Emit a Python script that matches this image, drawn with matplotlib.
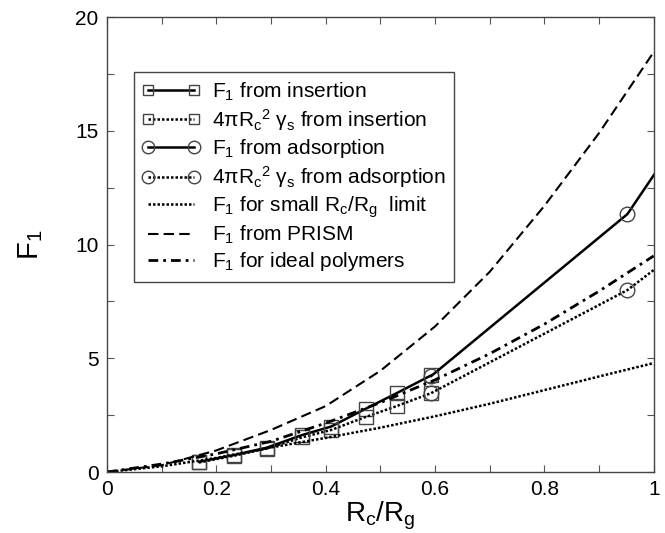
import numpy as np
import matplotlib
matplotlib.use("Agg")
import matplotlib.pyplot as plt
from matplotlib.ticker import MultipleLocator, FormatStrFormatter

plt.rcParams['font.family'] = ['Liberation Sans', 'DejaVu Sans']
plt.rcParams['mathtext.fontset'] = 'custom'
plt.rcParams['mathtext.rm'] = 'Liberation Sans'
plt.rcParams['mathtext.it'] = 'Liberation Sans:italic'
plt.rcParams['mathtext.default'] = 'regular'

# insertion data (squares)
x_ins = [0.168, 0.233, 0.292, 0.356, 0.410, 0.473, 0.530, 0.593]
f1_ins = [0.45, 0.75, 1.07, 1.62, 2.00, 2.78, 3.47, 4.25]
gam_ins = [0.42, 0.72, 1.03, 1.52, 1.85, 2.42, 2.90, 3.47]

# adsorption data (circles); last point lies past the axis edge
x_ads = [0.593, 0.952, 1.19]
f1_ads = [4.22, 11.34, 19.8]
gam_ads = [3.47, 8.00, 12.36]

# theory curves
x_th = [0.0, 0.1, 0.2, 0.3, 0.4, 0.5, 0.6, 0.7, 0.8, 0.9, 1.0]
f1_small = [0.0, 0.25, 0.62, 1.08, 1.50, 1.95, 2.45, 3.00, 3.60, 4.20, 4.79]
f1_prism = [0.0, 0.30, 0.95, 1.85, 2.90, 4.45, 6.40, 8.80, 11.70, 14.90, 18.46]
f1_ideal = [0.0, 0.35, 0.80, 1.35, 2.15, 3.05, 4.05, 5.20, 6.50, 7.95, 9.50]

fig = plt.figure(figsize=(6.65, 5.33), dpi=100)
ax = fig.add_axes([0.161, 0.1144, 0.822, 0.8536])

mk = dict(markerfacecolor='none', markeredgecolor='#444444', markeredgewidth=1.0)
ax.plot(x_ins, f1_ins, '-', color='black', lw=1.8, marker='s', markersize=9.5,
        label='F$_1$ from insertion', **mk)
ax.plot(x_ins, gam_ins, color='black', lw=1.8, ls=(0, (1, 0.8)), marker='s', markersize=9.5,
        label='4πR$_c$$^2$ γ$_s$ from insertion', **mk)
ax.plot(x_ads, f1_ads, '-', color='black', lw=1.8, marker='o', markersize=10.5,
        label='F$_1$ from adsorption', **mk)
ax.plot(x_ads, gam_ads, color='black', lw=1.8, ls=(0, (1, 0.8)), marker='o', markersize=10.5,
        label='4πR$_c$$^2$ γ$_s$ from adsorption', **mk)
ax.plot(x_th, f1_small, color='black', lw=1.8, ls=(0, (1, 0.8)),
        label='F$_1$ for small R$_c$/R$_g$  limit')
ax.plot(x_th, f1_prism, color='black', lw=1.5, ls=(0, (5, 2.5)),
        label='F$_1$ from PRISM')
ax.plot(x_th, f1_ideal, color='black', lw=2.0, ls=(0, (3.5, 1.8, 1, 1.8)),
        label='F$_1$ for ideal polymers')

ax.set_xlim(0, 1)
ax.set_ylim(0, 20)
ax.xaxis.set_major_locator(MultipleLocator(0.2))
ax.xaxis.set_minor_locator(MultipleLocator(0.1))
ax.yaxis.set_major_locator(MultipleLocator(5))
ax.yaxis.set_minor_locator(MultipleLocator(2.5))
ax.xaxis.set_major_formatter(FormatStrFormatter('%g'))
ax.tick_params(which='both', direction='in', top=True, right=True, length=5,
               width=0.8, color='#555555', labelsize=15, pad=6)
for s in ax.spines.values():
    s.set_color('#444444')
    s.set_linewidth(1.0)

ax.set_xlabel('R$_c$/R$_g$', fontsize=20, labelpad=0)
ax.set_ylabel('F$_1$', fontsize=21, labelpad=22)

leg = ax.legend(loc='upper left', bbox_to_anchor=(0.049, 0.879), borderaxespad=0,
                fontsize=15, numpoints=2, handlelength=2.8, handletextpad=0.55,
                labelspacing=0.2, fancybox=False, framealpha=1, borderpad=0.4)
leg.get_frame().set_edgecolor('#444444')
leg.get_frame().set_linewidth(1.0)
for h in leg.legend_handles[:2]:
    h.set_markersize(7)
for h in leg.legend_handles[2:4]:
    h.set_markersize(9)

fig.savefig('out.png', dpi=100)
